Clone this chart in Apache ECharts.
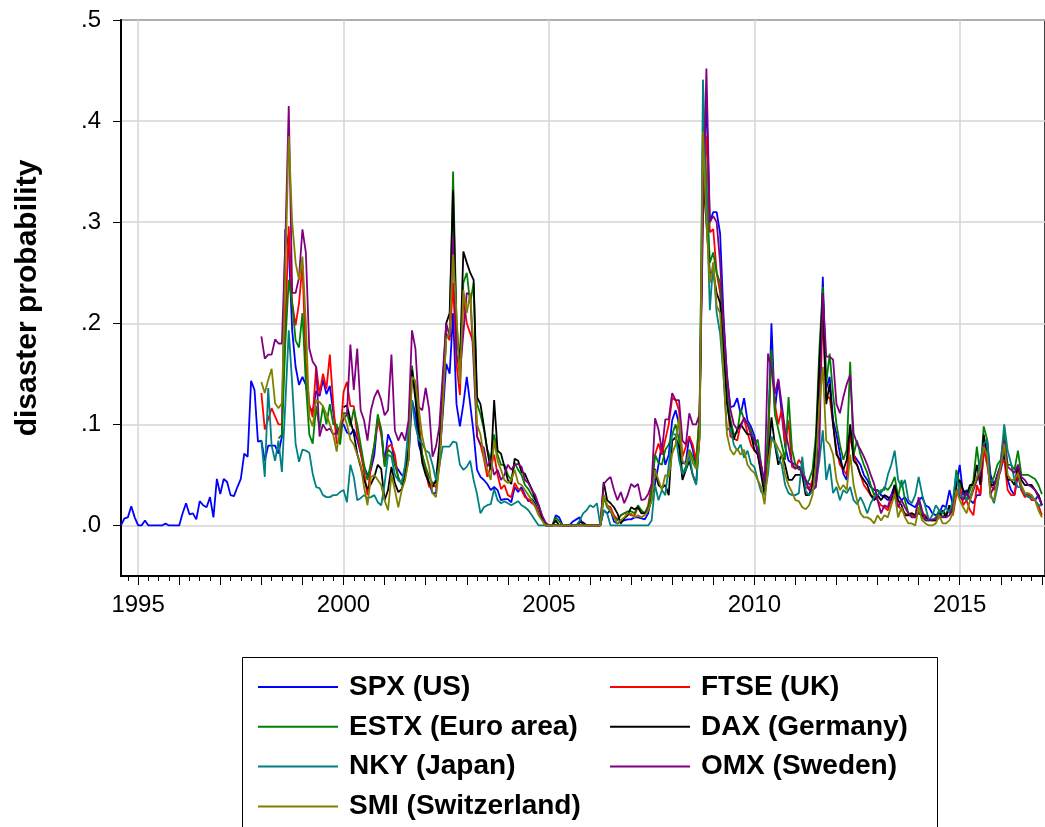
<!DOCTYPE html>
<html><head><meta charset="utf-8">
<script src="https://cdn.jsdelivr.net/npm/echarts@6/dist/echarts.min.js"></script>
<style>html,body{margin:0;padding:0;background:#fff}#c{width:1045px;height:827px}</style>
</head><body><div id="c"></div>
<script>
// ---- categories / legend names ----
const seriesNames = ['SPX (US)','FTSE (UK)','ESTX (Euro area)','DAX (Germany)','NKY (Japan)','OMX (Sweden)','SMI (Switzerland)'];
// first observation (year, month) of each series
const startSPX = [1994, 8], startFTSE = [1998, 1], startESTX = [1998, 6], startDAX = [2000, 1];
const startNKY = [1998, 1], startOMX = [1998, 1], startSMI = [1998, 1];
// x-axis tick labels
const labelYears = [1995, 2000, 2005, 2010, 2015];
// y-axis tick values
const yTicks = [0, 0.1, 0.2, 0.3, 0.4, 0.5];

// ---- monthly values ----
const spx = [
 0.000,0.007,0.008,0.019,0.008,
 0,0,0.005,0,0,0,0,0,0.002,0,0,0,
 0,0.012,0.022,0.011,0.012,0.006,0.024,0.020,0.018,0.028,0.008,0.046,
 0.031,0.046,0.043,0.030,0.029,0.038,0.046,0.071,0.068,0.143,0.134,0.083,
 0.084,0.064,0.079,0.079,0.079,0.071,0.088,0.293,0.275,0.193,0.157,0.139,
 0.147,0.139,0.117,0.113,0.133,0.128,0.144,0.130,0.138,0.112,0.090,0.098,
 0.100,0.092,0.090,0.095,0.085,0.072,0.058,0.050,0.055,0.070,0.106,0.095,
 0.062,0.090,0.082,0.060,0.055,0.050,0.048,0.065,0.124,0.110,0.080,0.068,
 0.055,0.042,0.032,0.032,0.066,0.110,0.160,0.150,0.210,0.120,0.098,0.120,
 0.147,0.120,0.091,0.055,0.048,0.045,0.041,0.035,0.038,0.035,0.025,0.026,
 0.026,0.023,0.038,0.033,0.038,0.030,0.024,0.026,0.022,0.012,0.006,0.000,
 0,0,0.010,0.008,0,0,0,0.004,0.006,0.008,0,0,
 0,0,0,0,0.015,0.012,0.015,0.004,0.002,0.004,0.005,0.006,
 0.006,0.008,0.008,0.007,0.006,0.012,0.030,0.041,0.060,0.081,0.060,0.070,
 0.104,0.114,0.100,0.061,0.063,0.088,0.075,0.058,0.100,0.350,0.418,0.300,
 0.310,0.310,0.289,0.207,0.147,0.117,0.118,0.126,0.110,0.126,0.104,0.098,
 0.089,0.071,0.055,0.038,0.084,0.200,0.114,0.144,0.111,0.078,0.064,0.062,
 0.060,0.058,0.056,0.045,0.041,0.040,0.045,0.120,0.246,0.135,0.147,0.104,
 0.090,0.071,0.051,0.045,0.095,0.070,0.065,0.060,0.050,0.045,0.038,0.035,
 0.035,0.030,0.028,0.025,0.030,0.040,0.030,0.025,0.028,0.022,0.020,0.018,
 0.025,0.028,0.020,0.018,0.012,0.010,0.012,0.020,0.018,0.035,0.020,0.040,
 0.060,0.030,0.035,0.025,0.022,0.030,0.030,0.075,0.085,0.050,0.040,0.045,
 0.055,0.070,0.045,0.035,0.030,0.050,0.035,0.030,0.030,0.028,0.025,0.030,
 0.020];
const ftse = [
 .131,.095,.105,.116,.108,.100,.100,.200,.296,.220,.198,.220,
 .258,.160,.120,.107,.157,.130,.150,.135,.169,.120,.081,.085,
 .132,.142,.118,.118,.090,.073,.053,.030,.058,.080,.104,.090,
 .060,.078,.080,.070,.045,.042,.058,.078,.147,.137,.104,.070,
 .053,.038,.040,.038,.058,.120,.190,.183,.240,.160,.129,.226,
 .200,.190,.180,.088,.080,.066,.048,.058,.070,.050,.036,.040,
 .030,.028,.042,.036,.035,.028,.026,.022,.020,.012,.008,.000,
 0,0,0,0,0,0,0,0,0,0,0,0,
 0,0,0,0,.030,.020,.018,.010,.006,.010,.012,.012,
 .010,.010,.018,.014,.012,.020,.040,.070,.081,.070,.085,.100,
 .126,.124,.114,.068,.078,.088,.080,.064,.110,.330,.385,.290,
 .293,.250,.230,.180,.130,.088,.086,.084,.100,.105,.092,.080,
 .074,.072,.055,.038,.080,.170,.120,.100,.115,.080,.104,.058,
 .056,.065,.060,.038,.036,.045,.080,.150,.203,.125,.127,.100,
 .075,.060,.055,.050,.090,.070,.060,.050,.040,.035,.030,.028,
 .025,.020,.018,.015,.025,.035,.020,.015,.012,.010,.010,.008,
 .015,.012,.010,.005,.005,.005,.008,.015,.010,.020,.010,.030,
 .040,.020,.025,.015,.010,.040,.030,.075,.060,.040,.035,.040,
 .060,.065,.035,.030,.030,.055,.035,.028,.030,.025,.025,.020,
 .010];
const estx = [
 .086,.090,.180,.243,.220,.183,.176,
 .210,.140,.090,.081,.118,.095,.118,.100,.120,.100,.100,.080,
 .111,.111,.098,.115,.100,.080,.060,.045,.062,.080,.110,.095,
 .058,.075,.072,.060,.048,.040,.052,.075,.158,.130,.095,.070,
 .058,.048,.042,.042,.070,.130,.185,.190,.350,.200,.160,.240,
 .250,.220,.240,.120,.110,.095,.075,.065,.090,.070,.060,.060,
 .050,.045,.062,.055,.050,.040,.036,.030,.025,.018,.008,.000,
 0,0,.008,.004,0,0,0,0,0,0,0,0,
 0,0,0,0,.028,.018,.014,.008,.005,.010,.012,.014,
 .014,.012,.020,.015,.012,.018,.035,.070,.062,.060,.075,.080,
 .090,.100,.084,.051,.058,.075,.068,.058,.110,.395,.340,.260,
 .270,.250,.240,.180,.130,.105,.090,.092,.115,.105,.100,.095,
 .080,.085,.060,.040,.090,.174,.110,.095,.080,.065,.127,.075,
 .060,.055,.058,.040,.045,.055,.090,.174,.236,.140,.170,.130,
 .100,.080,.065,.075,.162,.070,.084,.070,.060,.052,.040,.030,
 .035,.032,.038,.035,.040,.048,.028,.045,.025,.012,.012,.010,
 .025,.008,.005,.005,.005,.008,.015,.008,.012,.015,.020,.055,
 .040,.035,.025,.035,.045,.078,.050,.098,.085,.040,.048,.060,
 .065,.091,.060,.060,.055,.074,.050,.050,.050,.048,.046,.040,
 .031];
const dax = [
 .117,.119,.104,.091,.071,.058,.045,.036,.041,.048,.060,.056,
 .025,.035,.058,.042,.033,.036,.048,.075,.154,.125,.090,.062,
 .050,.042,.038,.045,.080,.140,.200,.210,.332,.190,.160,.271,
 .260,.250,.243,.127,.120,.098,.074,.055,.124,.074,.071,.058,
 .045,.041,.066,.064,.053,.051,.043,.036,.026,.020,.008,.000,
 0,0,.005,0,0,0,0,0,0,.003,.003,0,
 0,0,0,0,.043,.025,.022,.018,.012,.002,.007,.010,
 .018,.016,.018,.012,.012,.015,.025,.056,.040,.037,.040,.030,
 .084,.087,.078,.045,.055,.064,.050,.041,.090,.347,.300,.250,
 .250,.230,.220,.170,.120,.100,.085,.095,.100,.095,.090,.090,
 .075,.070,.050,.030,.060,.107,.080,.060,.070,.060,.045,.045,
 .050,.050,.050,.030,.030,.040,.080,.160,.230,.120,.140,.100,
 .070,.065,.055,.065,.100,.064,.060,.050,.045,.040,.030,.025,
 .030,.025,.030,.028,.025,.040,.025,.020,.010,.010,.012,.010,
 .012,.010,.008,.006,.005,.005,.008,.015,.008,.020,.012,.040,
 .045,.035,.030,.040,.040,.060,.040,.090,.070,.040,.040,.050,
 .060,.080,.045,.045,.040,.060,.045,.040,.040,.040,.035,.030,
 .020];
const nky = [
 .084,.048,.136,.079,.064,.084,.053,.120,.193,.140,.081,.063,
 .075,.074,.072,.051,.038,.037,.030,.028,.028,.030,.030,.033,
 .035,.023,.060,.048,.025,.027,.030,.027,.028,.030,.023,.020,
 .041,.070,.068,.050,.045,.042,.060,.098,.124,.098,.085,.081,
 .074,.072,.060,.045,.060,.078,.078,.078,.083,.082,.060,.055,
 .058,.064,.045,.031,.012,.018,.020,.021,.036,.025,.022,.024,
 .022,.020,.022,.024,.020,.018,.015,.010,.005,.000,.000,.000,
 0,0,0,0,0,0,0,0,0,.005,.012,.015,
 .020,.018,.022,.000,.015,.012,.000,0,0,0,0,0,
 0,0,0,0,0,0,.005,.040,.025,.035,.030,.060,
 .090,.090,.065,.051,.055,.070,.050,.040,.088,.441,.330,.213,
 .260,.210,.190,.147,.094,.097,.080,.074,.080,.067,.074,.061,
 .058,.045,.033,.031,.051,.088,.081,.068,.060,.040,.032,.030,
 .030,.032,.068,.034,.030,.034,.041,.064,.094,.045,.061,.032,
 .038,.025,.035,.032,.038,.025,.021,.028,.021,.012,.022,.028,
 .030,.035,.035,.050,.060,.074,.045,.038,.045,.025,.022,.030,
 .048,.031,.018,.005,.010,.020,.015,.012,.018,.012,.025,.051,
 .030,.028,.025,.028,.038,.045,.064,.081,.084,.031,.022,.038,
 .064,.100,.074,.061,.045,.038,.038,.031,.028,.028,.025,.020,
 .020];
const omx = [
 .187,.165,.169,.169,.184,.180,.180,.280,.415,.230,.230,.245,
 .293,.270,.175,.162,.157,.088,.100,.094,.096,.090,.092,.098,
 .105,.110,.179,.134,.175,.114,.104,.084,.114,.127,.134,.124,
 .109,.114,.169,.094,.084,.092,.084,.104,.193,.175,.117,.114,
 .136,.115,.068,.078,.098,.150,.200,.187,.286,.170,.150,.190,
 .230,.228,.160,.088,.080,.077,.058,.065,.050,.055,.045,.050,
 .060,.055,.060,.061,.058,.045,.042,.035,.030,.020,.010,.003,
 0,0,0,0,0,0,0,0,0,0,0,0,
 0,0,0,0,.041,.045,.048,.035,.025,.033,.022,.030,
 .041,.038,.041,.025,.026,.031,.041,.106,.095,.074,.105,.105,
 .131,.124,.124,.084,.080,.111,.100,.100,.110,.300,.452,.300,
 .306,.300,.260,.200,.150,.115,.100,.095,.097,.107,.100,.090,
 .085,.075,.060,.042,.170,.155,.130,.145,.120,.094,.078,.061,
 .056,.058,.051,.045,.035,.035,.038,.078,.230,.167,.167,.164,
 .120,.111,.127,.140,.149,.091,.081,.075,.068,.060,.050,.041,
 .025,.012,.020,.018,.030,.031,.018,.025,.018,.012,.008,.008,
 .028,.015,.005,.005,.006,.006,.010,.008,.008,.010,.018,.035,
 .028,.025,.033,.025,.035,.045,.050,.080,.068,.031,.038,.050,
 .060,.084,.058,.055,.052,.060,.048,.045,.040,.038,.035,.028,
 .020];
const smi = [
 .142,.131,.144,.155,.121,.116,.121,.250,.385,.300,.260,.243,
 .266,.200,.107,.098,.124,.122,.118,.110,.100,.090,.073,.100,
 .110,.100,.085,.080,.070,.060,.038,.020,.048,.050,.045,.040,
 .025,.015,.050,.035,.018,.035,.045,.065,.147,.143,.115,.088,
 .072,.058,.032,.028,.060,.120,.185,.190,.268,.210,.140,.233,
 .210,.230,.174,.100,.090,.068,.055,.045,.084,.064,.055,.045,
 .042,.045,.055,.042,.040,.035,.030,.025,.018,.010,.005,.000,
 0,0,0,0,0,0,0,0,0,0,0,0,
 0,0,0,0,.030,.020,.015,.008,.002,.005,.008,.012,
 .012,.008,.010,.008,.010,.015,.025,.055,.045,.035,.050,.048,
 .071,.080,.107,.064,.060,.074,.062,.056,.085,.390,.300,.240,
 .260,.217,.210,.150,.090,.075,.070,.076,.070,.075,.060,.055,
 .052,.045,.038,.021,.060,.084,.083,.076,.070,.050,.040,.033,
 .025,.024,.018,.016,.020,.030,.060,.120,.157,.084,.080,.070,
 .045,.035,.040,.035,.070,.040,.025,.012,.008,.008,.006,.002,
 .010,.005,.010,.008,.020,.031,.008,.018,.008,.002,.002,.000,
 .018,.005,.002,.000,.000,.002,.010,.002,.002,.005,.012,.035,
 .025,.018,.012,.025,.038,.048,.055,.078,.070,.028,.025,.045,
 .058,.081,.050,.045,.045,.052,.040,.032,.032,.030,.025,.015,
 .008];

// ---- styling (kept apart from data) ----
const colors = ['#0000ff','#ff0000','#008000','#000000','#008080','#800080','#808000'];
const FONT = '"Liberation Sans", Arial, sans-serif';

function toPoints(start, vals) {
  return vals.map((v, i) => {
    const k = (start[1] - 1) + i;
    return [start[0] + Math.floor(k / 12) + (k % 12) / 12, v];
  });
}
const allData = [
  toPoints(startSPX, spx), toPoints(startFTSE, ftse), toPoints(startESTX, estx),
  toPoints(startDAX, dax), toPoints(startNKY, nky), toPoints(startOMX, omx), toPoints(startSMI, smi)
];

const X_MIN = 1994 + 7 / 12;
const PX_PER_YEAR = 41.17;
const GRID_W = 926;
const X_MAX = X_MIN + GRID_W / PX_PER_YEAR;
const allYears = [], quarters = [];
for (let y = 1994; y <= 2017; y++) {
  if (y >= X_MIN && y <= X_MAX) allYears.push(y);
  for (let q = 1; q < 4; q++) { const t = y + q / 4; if (t >= X_MIN && t <= X_MAX) quarters.push(t); }
}

const legendText = { fontSize: 28, fontWeight: 'bold', color: '#000', lineHeight: 28, padding: [0, 0, 0, 6], fontFamily: FONT };
const chart = echarts.init(document.getElementById('c'), null, { renderer: 'canvas' });
const baseX = { type: 'value', min: X_MIN, max: X_MAX, position: 'bottom', gridIndex: 0 };
chart.setOption({
  animation: false,
  backgroundColor: '#ffffff',
  textStyle: { fontFamily: FONT, color: '#000' },
  grid: { left: 121, top: 20, width: GRID_W, height: 556, show: true, borderColor: '#000', borderWidth: 1.5, containLabel: false },
  xAxis: [
    Object.assign({}, baseX, {
      axisLine: { show: true, onZero: false, lineStyle: { color: '#000', width: 2 } },
      axisTick: { show: true, customValues: labelYears, length: 9, lineStyle: { color: '#000', width: 1 } },
      axisLabel: { customValues: labelYears, formatter: v => String(Math.round(v)), fontSize: 24, color: '#000', margin: 17, fontFamily: FONT },
      splitLine: { show: true, lineStyle: { color: '#d4d4d4', width: 1.5 } }
    }),
    Object.assign({}, baseX, {
      axisLine: { show: false, onZero: false },
      axisTick: { show: true, customValues: allYears, length: 9, lineStyle: { color: '#000', width: 1 } },
      axisLabel: { show: false }, splitLine: { show: false }
    }),
    Object.assign({}, baseX, {
      axisLine: { show: false, onZero: false },
      axisTick: { show: true, customValues: quarters, length: 5, lineStyle: { color: '#000', width: 1 } },
      axisLabel: { show: false }, splitLine: { show: false }
    })
  ],
  yAxis: {
    type: 'value', min: -0.05, max: 0.5,
    axisLine: { show: true, onZero: false, lineStyle: { color: '#000', width: 2 } },
    axisTick: { show: true, customValues: yTicks, length: 8, lineStyle: { color: '#000', width: 1 } },
    axisLabel: { customValues: yTicks, formatter: v => v.toFixed(1).replace(/^0/, ''), fontSize: 24, color: '#000', margin: 20, fontFamily: FONT },
    splitLine: { show: true, lineStyle: { color: '#d4d4d4', width: 1.5 } },
    name: 'disaster probability', nameLocation: 'middle', nameGap: 78,
    nameTextStyle: { fontSize: 30, fontWeight: 'bold', color: '#000', fontFamily: FONT }
  },
  legend: [
    { data: [seriesNames[0], seriesNames[2], seriesNames[4], seriesNames[6]], orient: 'vertical', left: 258, top: 673, padding: 0, height: 160,
      icon: 'rect', itemWidth: 80, itemHeight: 2, itemGap: 11.8, selectedMode: false, textStyle: legendText },
    { data: [seriesNames[1], seriesNames[3], seriesNames[5]], orient: 'vertical', left: 610, top: 673, padding: 0, height: 160,
      icon: 'rect', itemWidth: 80, itemHeight: 2, itemGap: 11.8, selectedMode: false, textStyle: legendText }
  ],
  graphic: [
    { type: 'rect', shape: { x: 242.5, y: 657.5, width: 695, height: 200 }, style: { fill: 'none', stroke: '#000', lineWidth: 1 }, z: 100 }
  ],
  series: seriesNames.map((name, i) => ({
    name, type: 'line', xAxisIndex: 0, data: allData[i], showSymbol: false, symbol: 'none',
    color: colors[i], lineStyle: { color: colors[i], width: 1.8 }, z: 2 + i, silent: true
  }))
});
</script>
</body></html>
